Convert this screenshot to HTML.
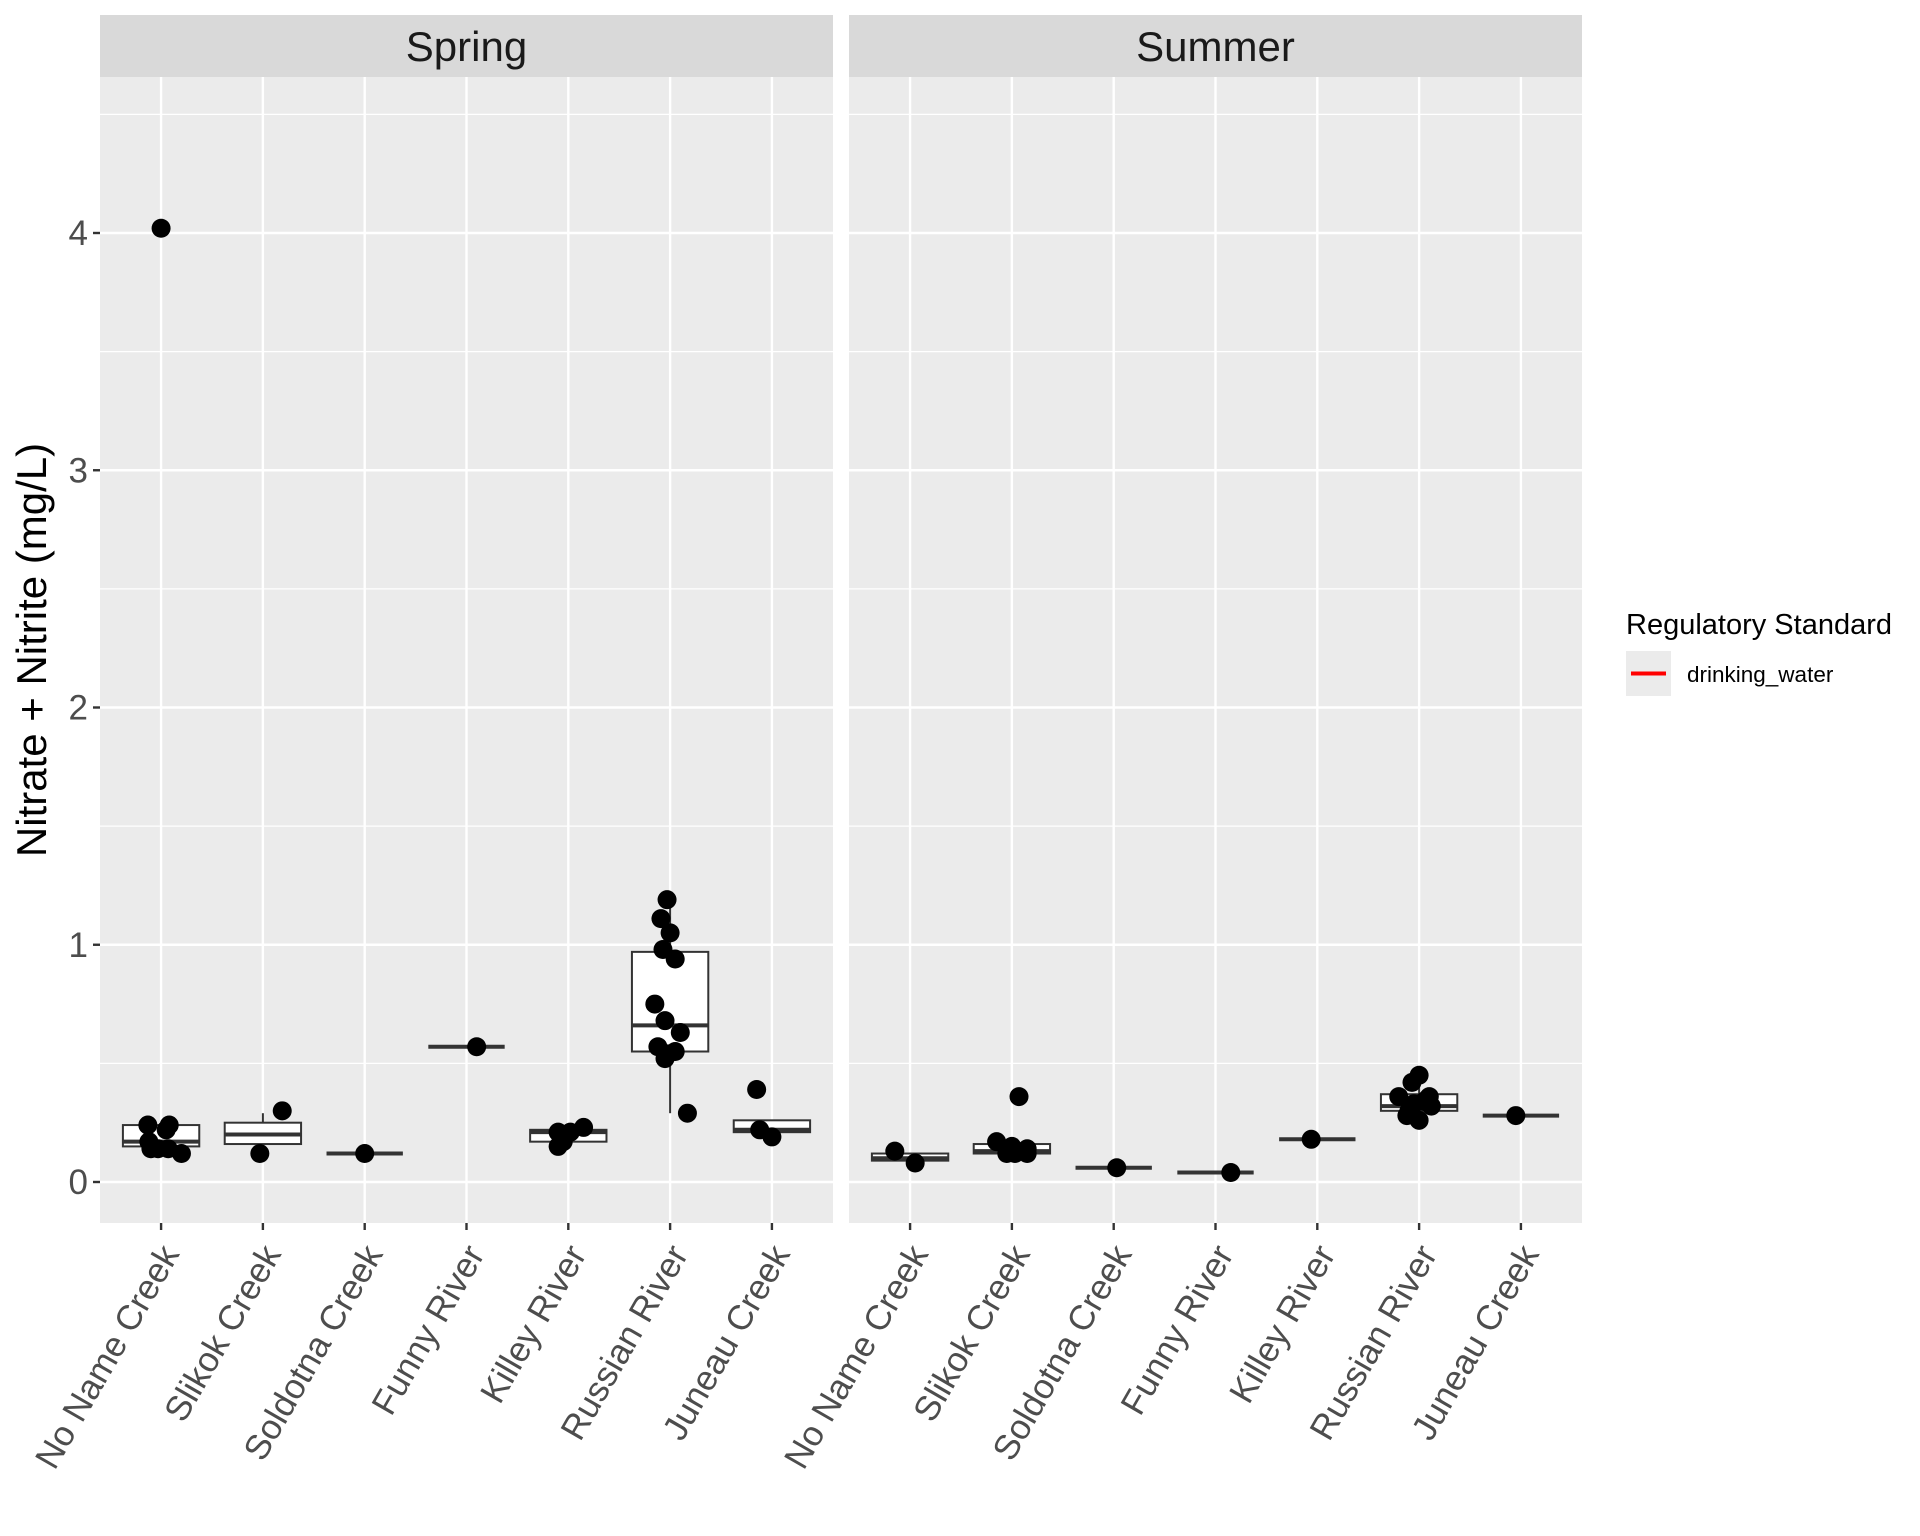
<!DOCTYPE html>
<html><head><meta charset="utf-8">
<style>html,body{margin:0;padding:0;background:#fff}svg{display:block}</style>
</head><body>
<svg id="s" xmlns="http://www.w3.org/2000/svg" width="1920" height="1536" viewBox="0 0 1920 1536" font-family="Liberation Sans, Arial, sans-serif"></svg>
<script>
const S=document.getElementById('s');
let h='';
const Y=v=>1182-v*237.25;
const P=[100,849], PW=733, step=PW/7.2;
const X=(p,i)=>P[p]+(0.6+i)*step;
const names=["No Name Creek","Slikok Creek","Soldotna Creek","Funny River","Killey River","Russian River","Juneau Creek"];
for(let p=0;p<2;p++){
  const x0=P[p];
  h+=`<rect x="${x0}" y="15" width="${PW}" height="62" fill="#d9d9d9"/>`;
  h+=`<text x="${x0+PW/2}" y="61" font-size="42" text-anchor="middle" fill="#1a1a1a">${p?'Summer':'Spring'}</text>`;
  h+=`<rect x="${x0}" y="77" width="${PW}" height="1146" fill="#ebebeb"/>`;
  for(let v=-0.5;v<=4.5;v+=1){h+=`<line x1="${x0}" x2="${x0+PW}" y1="${Y(v)}" y2="${Y(v)}" stroke="#fff" stroke-width="1.2"/>`;}
  for(let v=0;v<=4;v++){h+=`<line x1="${x0}" x2="${x0+PW}" y1="${Y(v)}" y2="${Y(v)}" stroke="#fff" stroke-width="2.4"/>`;}
  for(let i=0;i<7;i++){const x=X(p,i);
    h+=`<line x1="${x}" x2="${x}" y1="77" y2="1223" stroke="#fff" stroke-width="2.4"/>`;
    h+=`<line x1="${x}" x2="${x}" y1="1223" y2="1230" stroke="#333" stroke-width="2.4"/>`;
    h+=`<text x="${x+19}" y="1254" font-size="35" fill="#4d4d4d" text-anchor="end" transform="rotate(-60 ${x+19} 1254)">${names[i]}</text>`;
  }
}
for(let v=0;v<=4;v++){h+=`<line x1="93" x2="100" y1="${Y(v)}" y2="${Y(v)}" stroke="#333" stroke-width="2.4"/>`;
  h+=`<text x="88" y="${Y(v)+12}" font-size="35" fill="#4d4d4d" text-anchor="end">${v}</text>`;}
h+=`<text x="0" y="0" font-size="42" fill="#000" text-anchor="middle" transform="translate(46 650) rotate(-90)">Nitrate + Nitrite (mg/L)</text>`;
const D=[
 [[.15,.17,.24,.12,.24,[[0,4.02],[-.13,.24],[.08,.24],[.05,.22],[-.12,.17],[-.1,.14],[.07,.14],[-.03,.14],[.2,.12]]],
  [.16,.20,.25,.12,.29,[[-.03,.12],[.19,.30]]],
  [.12,.12,.12,.12,.12,[[0,.12]]],
  [.57,.57,.57,.57,.57,[[.1,.57]]],
  [.17,.21,.22,.15,.23,[[-.1,.15],[-.05,.17],[-.1,.21],[.02,.21],[-.05,.19],[.15,.23]]],
  [.55,.66,.97,.29,1.19,[[-.03,1.19],[-.09,1.11],[0,1.05],[-.07,.98],[.05,.94],[-.15,.75],[-.05,.68],[.1,.63],[-.12,.57],[.05,.55],[-.02,.54],[-.05,.52],[.17,.29]]],
  [.21,.22,.26,.19,.26,[[-.15,.39],[-.12,.22],[0,.19]]]],
 [[.09,.10,.12,.09,.12,[[-.15,.13],[.05,.08]]],
  [.12,.13,.16,.12,.16,[[-.15,.17],[.07,.36],[-.05,.12],[0,.15],[.15,.14],[.15,.12],[.03,.12]]],
  [.06,.06,.06,.06,.06,[[.03,.06]]],
  [.04,.04,.04,.04,.04,[[.15,.04]]],
  [.18,.18,.18,.18,.18,[[-.06,.18]]],
  [.30,.32,.37,.26,.42,[[0,.45],[-.07,.42],[-.2,.36],[.08,.35],[-.05,.33],[.12,.32],[-.1,.30],[-.12,.28],[0,.26],[.05,.34],[.1,.36]]],
  [.28,.28,.28,.28,.28,[[-.05,.28]]]]
];
const bw=0.75*step;
for(let p=0;p<2;p++)for(let i=0;i<7;i++){
  const [q1,m,q3,lo,hi,pts]=D[p][i];const x=X(p,i);
  h+=`<line x1="${x}" x2="${x}" y1="${Y(hi)}" y2="${Y(q3)}" stroke="#333" stroke-width="2"/>`;
  h+=`<line x1="${x}" x2="${x}" y1="${Y(q1)}" y2="${Y(lo)}" stroke="#333" stroke-width="2"/>`;
  h+=`<rect x="${x-bw/2}" y="${Y(q3)}" width="${bw}" height="${Y(q1)-Y(q3)}" fill="#fff" stroke="#333" stroke-width="2"/>`;
  h+=`<line x1="${x-bw/2}" x2="${x+bw/2}" y1="${Y(m)}" y2="${Y(m)}" stroke="#333" stroke-width="4"/>`;
  for(const [dx,v] of pts)h+=`<circle cx="${x+dx*step}" cy="${Y(v)}" r="9.5" fill="#000"/>`;
}
h+=`<text x="1626" y="634" font-size="29" fill="#000">Regulatory Standard</text>`;
h+=`<rect x="1626" y="651" width="45" height="45" fill="#ebebeb"/>`;
h+=`<line x1="1631" x2="1666" y1="673.5" y2="673.5" stroke="#ff0000" stroke-width="4"/>`;
h+=`<text x="1687" y="682" font-size="22.5" fill="#000">drinking_water</text>`;
S.innerHTML=h;
</script>
</body></html>
